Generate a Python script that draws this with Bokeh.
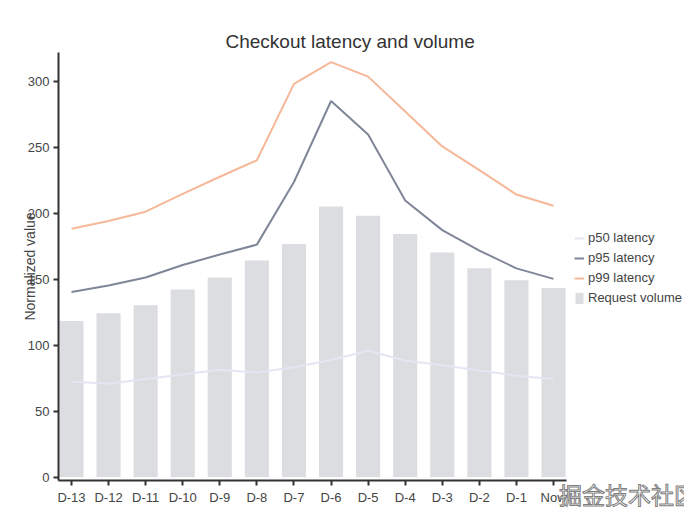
from bokeh.plotting import figure
from bokeh.models import (Range1d, FixedTicker, Legend, LegendItem, LinearAxis,
                          ColumnDataSource)
from bokeh.embed import file_html
from bokeh.resources import INLINE

categories = ["D-13", "D-12", "D-11", "D-10", "D-9", "D-8", "D-7",
              "D-6", "D-5", "D-4", "D-3", "D-2", "D-1", "Now"]
volume = [118.5, 124.5, 130.5, 142.5, 151.5, 164.5, 177, 205.5, 198.5, 184.5, 170.5, 158.5, 149.5, 143.5]
p50 = [72.5, 71, 74.5, 78, 81.5, 79.5, 83.5, 89, 96, 88.5, 85, 81, 77, 74.5]
p95 = [140.5, 145.5, 151.5, 161, 169, 176.5, 224, 285.5, 260, 210, 187.5, 172, 158.5, 150.5]
p99 = [188.5, 194.5, 201.5, 215, 228, 240.5, 298.5, 315, 304, 277.5, 251, 233, 214.5, 206]
y_ticks = [0, 50, 100, 150, 200, 250, 300]
watermark = "掘金技术社区 @swithun"

xs = list(range(len(categories)))
src = ColumnDataSource(dict(x=xs, cat=categories, volume=volume, p50=p50, p95=p95, p99=p99))

FONT = "Liberation Sans"
W, H = 684, 522
BL, BT, BB = 58, 52, 42
FRAME_W = W - BL
X0, X1 = -0.35, len(categories) - 0.65
DATA_PX = 508.0
PX_PER_UNIT = DATA_PX / (X1 - X0)
x_end = X0 + FRAME_W / PX_PER_UNIT

p = figure(width=W, height=H, output_backend="svg", toolbar_location=None,
           x_range=Range1d(X0, x_end),
           y_range=Range1d(-2.5, 322.3),
           min_border_left=BL, min_border_top=BT, min_border_bottom=BB, min_border_right=0)
p.outline_line_color = None
p.xgrid.visible = False
p.ygrid.visible = False
p.background_fill_color = "white"

p.title.text = "Checkout latency and volume"
p.title.align = "left"
p.title.text_font = FONT
p.title.text_font_size = "19px"
p.title.text_font_style = "normal"
p.title.text_color = "#333333"
p.title.standoff = 1
p.title.offset = 167

bars = p.vbar(x="x", top="volume", bottom=0, width=0.65, source=src,
              fill_color="#dcdde0", line_color=None)
l50 = p.line("x", "p50", source=src, line_color="#e4e6f4", line_width=2)
l95 = p.line("x", "p95", source=src, line_color="#7f8698", line_width=2)
l99 = p.line("x", "p99", source=src, line_color="#f6b899", line_width=2)

for ax in (p.xaxis[0], p.yaxis[0]):
    ax.axis_line_color = "#333333"
    ax.axis_line_width = 2
    ax.major_tick_line_color = "#333333"
    ax.major_tick_line_width = 2
    ax.major_tick_out = 5
    ax.major_tick_in = 0
    ax.minor_tick_line_color = None
    ax.major_label_text_font = FONT
    ax.major_label_text_font_size = "13px"
    ax.major_label_text_color = "#444444"
    ax.major_label_standoff = 4

p.xaxis[0].ticker = FixedTicker(ticks=xs)
p.xaxis[0].major_label_overrides = {i: c for i, c in zip(xs, categories)}
p.xaxis[0].bounds = (X0, X1)
p.yaxis[0].ticker = FixedTicker(ticks=y_ticks)

p.yaxis.axis_label = "Normalized value"
p.yaxis.axis_label_text_font = FONT
p.yaxis.axis_label_text_font_size = "14px"
p.yaxis.axis_label_text_font_style = "normal"
p.yaxis.axis_label_text_color = "#444444"
p.yaxis.axis_label_standoff = -13

legend = Legend(items=[
    LegendItem(label="p50 latency", renderers=[l50]),
    LegendItem(label="p95 latency", renderers=[l95]),
    LegendItem(label="p99 latency", renderers=[l99]),
    LegendItem(label="Request volume", renderers=[bars]),
], location=(DATA_PX + 8, 175), orientation="vertical",
    glyph_width=10, glyph_height=14, label_standoff=4, spacing=5,
    padding=0, margin=0, border_line_color=None, background_fill_alpha=0,
    label_text_font=FONT, label_text_font_size="13px", label_text_color="#444444")
p.add_layout(legend)

# watermark carried as the label of a bare second x axis
wm_axis = LinearAxis(ticker=FixedTicker(ticks=[]),
                     axis_line_color=None, major_tick_line_color=None,
                     minor_tick_line_color=None,
                     axis_label=watermark, axis_label_standoff=-31,
                     axis_label_text_font="Noto Sans CJK SC",
                     axis_label_text_font_size="23px",
                     axis_label_text_font_style="normal",
                     axis_label_text_color="white",
                     axis_label_text_outline_color="#808080")
for align in ("end", "right"):
    try:
        wm_axis.axis_label_align = align
        break
    except Exception:
        pass
p.add_layout(wm_axis, "below")

open("out.html", "w").write(file_html(p, INLINE))
